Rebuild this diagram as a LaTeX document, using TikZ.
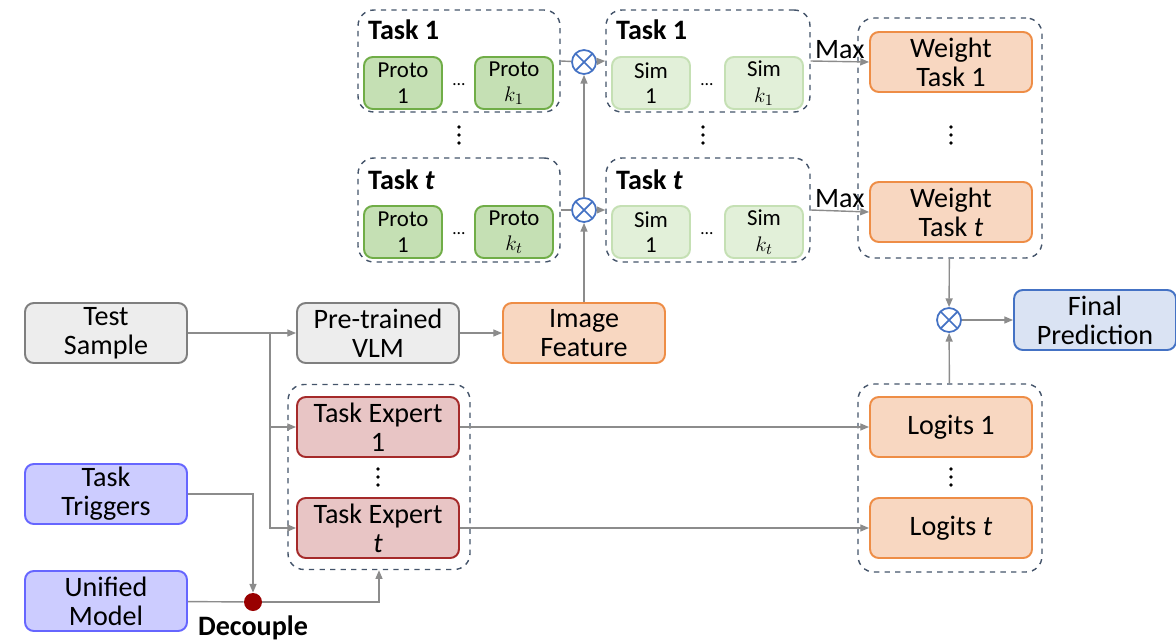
\documentclass[tikz,border=0pt]{standalone}
\usepackage{fontspec}
\setmainfont{Carlito}
\usetikzlibrary{arrows.meta}
\definecolor{boxgray}{HTML}{EDEDED}
\definecolor{linegray}{HTML}{7F7F7F}
\definecolor{arrowgray}{HTML}{8C8C8C}
\definecolor{featfill}{HTML}{F8D7C1}
\definecolor{featline}{HTML}{EE8D46}
\definecolor{protofill}{HTML}{C5E0B4}
\definecolor{protoline}{HTML}{70AD47}
\definecolor{simfill}{HTML}{E2F0D9}
\definecolor{simline}{HTML}{C5E0B4}
\definecolor{expfill}{HTML}{E8C5C5}
\definecolor{expline}{HTML}{A52A2A}
\definecolor{trigfill}{HTML}{CCCCFF}
\definecolor{trigline}{HTML}{6666FF}
\definecolor{predfill}{HTML}{DAE3F3}
\definecolor{predline}{HTML}{4472C4}
\definecolor{grpline}{HTML}{44546A}
\definecolor{decred}{HTML}{990000}
\tikzstyle{block}=[draw, rounded corners=5pt, line width=1.1pt, align=center,
  minimum width=3.24cm, minimum height=1.2cm, inner sep=1pt, font=\fontsize{16}{16.5}\selectfont]
\tikzstyle{small block}=[block, minimum width=1.56cm, minimum height=1.04cm,
  font=\fontsize{13}{14.5}\selectfont]
\tikzstyle{group}=[draw=grpline, dashed, line width=0.8pt, rounded corners=9pt]
\tikzstyle{header}=[anchor=west, font=\bfseries\fontsize{16}{18}\selectfont]
\tikzstyle{multiply}=[circle, draw=predline, fill=white, line width=1pt, minimum size=0.48cm,
  path picture={\draw[predline, line width=1pt] (path picture bounding box.north west) -- (path picture bounding box.south east)
  (path picture bounding box.north east) -- (path picture bounding box.south west);}]
\tikzstyle{flow}=[draw=arrowgray, line width=0.8pt, -{Triangle[length=5pt,width=4pt]}]
\tikzstyle{plain flow}=[draw=arrowgray, line width=0.8pt]
\tikzstyle{label}=[font=\fontsize{16}{18}\selectfont]

\begin{document}
\begin{tikzpicture}[x=0.02cm, y=-0.02cm]
  \useasboundingbox (0,0) rectangle (1176,643);
  % prototypes
  \node[group, minimum width=4.04cm, minimum height=2.04cm] (pg1) at (459,61) {};
  \node[header] at (362,30) {Task 1};
  \node[small block, fill=protofill, draw=protoline] (p11) at (403,83) {Proto\\1};
  \node[small block, fill=protofill, draw=protoline] (p1k) at (514,83) {Proto\\$k_1$};
  \node at (459,85) {\dots};
  \node[group, minimum width=4.04cm, minimum height=2.08cm] (pgt) at (459,210) {};
  \node[header] at (362,180) {Task \textit{t}};
  \node[small block, fill=protofill, draw=protoline] (pt1) at (403,232) {Proto\\1};
  \node[small block, fill=protofill, draw=protoline] (ptk) at (514,232) {Proto\\$k_t$};
  \node at (459,234) {\dots};
  % similarities
  \node[group, minimum width=4.08cm, minimum height=2.04cm] (sg1) at (708,61) {};
  \node[header] at (610,30) {Task 1};
  \node[small block, fill=simfill, draw=simline] (s11) at (651,83) {Sim\\1};
  \node[small block, fill=simfill, draw=simline] (s1k) at (764,83) {Sim\\$k_1$};
  \node at (707,85) {\dots};
  \node[group, minimum width=4.08cm, minimum height=2.08cm] (sgt) at (708,210) {};
  \node[header] at (610,180) {Task \textit{t}};
  \node[small block, fill=simfill, draw=simline] (st1) at (651,232) {Sim\\1};
  \node[small block, fill=simfill, draw=simline] (stk) at (764,232) {Sim\\$k_t$};
  \node at (707,234) {\dots};
  \node[multiply] (mul1) at (584,62) {};
  \node[multiply] (mul2) at (584,210) {};
  % weights
  \node[group, minimum width=3.68cm, minimum height=4.8cm] (wgrp) at (950,138) {};
  \node[block, fill=featfill, draw=featline] (w1) at (951,62) {Weight\\Task 1};
  \node[block, fill=featfill, draw=featline] (wt) at (951,212) {Weight\\Task \textit{t}};
  % main row
  \node[block, fill=boxgray, draw=linegray] (test) at (106,333) {Test\\Sample};
  \node[block, fill=boxgray, draw=linegray] (vlm) at (378,333) {Pre-trained\\VLM};
  \node[block, fill=featfill, draw=featline] (feat) at (584,333) {Image\\Feature};
  \node[multiply] (mul3) at (949,320) {};
  \node[block, fill=predfill, draw=predline] (pred) at (1095,320) {Final\\Prediction};
  % experts
  \node[group, minimum width=3.64cm, minimum height=3.7cm] (egrp) at (379,477) {};
  \node[block, fill=expfill, draw=expline] (e1) at (378,427) {Task Expert\\1};
  \node[block, fill=expfill, draw=expline] (et) at (378,528) {Task Expert\\\textit{t}};
  % logits
  \node[group, minimum width=3.68cm, minimum height=3.76cm] (lgrp) at (950,478) {};
  \node[block, fill=featfill, draw=featline] (l1) at (951,427) {Logits 1};
  \node[block, fill=featfill, draw=featline] (lt) at (951,528) {Logits \textit{t}};
  % vertical dots
  \foreach \x/\y in {459/135, 703/135, 951/135, 378/477, 951/477}
    \foreach \d in {-8,0,8}
      \fill (\x,\y+\d) circle (1.9);
  % triggers
  \node[block, fill=trigfill, draw=trigline] (trig) at (106,494) {Task\\Triggers};
  \node[block, fill=trigfill, draw=trigline] (uni) at (106,601) {Unified\\Model};
  \node[circle, fill=decred, minimum size=0.36cm, inner sep=0pt] (dec) at (253,602) {};
  \node[font=\bfseries\fontsize{16}{18}\selectfont] at (253,628) {Decouple};
  \coordinate (split) at (270,333);
  % connectors
  \draw[flow] (test) -- (vlm);
  \draw[flow] (split) |- (e1.west);
  \draw[flow] (split) |- (et.west);
  \draw[flow] (vlm) -- (feat);
  \draw[flow] (feat) -- (mul2);
  \draw[flow] (mul2) -- (mul1);
  \draw[plain flow] (pg1.east) -- (mul1);
  \draw[flow] (mul1) -- (sg1.west);
  \draw[plain flow] (pgt.east) -- (mul2);
  \draw[flow] (mul2) -- (sgt.west);
  \draw[flow] (sg1.east) -- node[label, above=-2pt] {Max} (w1.west);
  \draw[flow] (sgt.east) -- node[label, above=-2pt] {Max} (wt.west);
  \draw[flow] (wgrp) -- (mul3);
  \draw[flow] (lgrp) -- (mul3);
  \draw[flow] (mul3) -- (pred);
  \draw[flow] (e1) -- (l1);
  \draw[flow] (et) -- (lt);
  \draw[flow] (trig.east) -| (dec.north);
  \draw[plain flow] (uni) -- (dec);
  \draw[flow] (dec) -| (egrp.south);
\end{tikzpicture}
\end{document}
